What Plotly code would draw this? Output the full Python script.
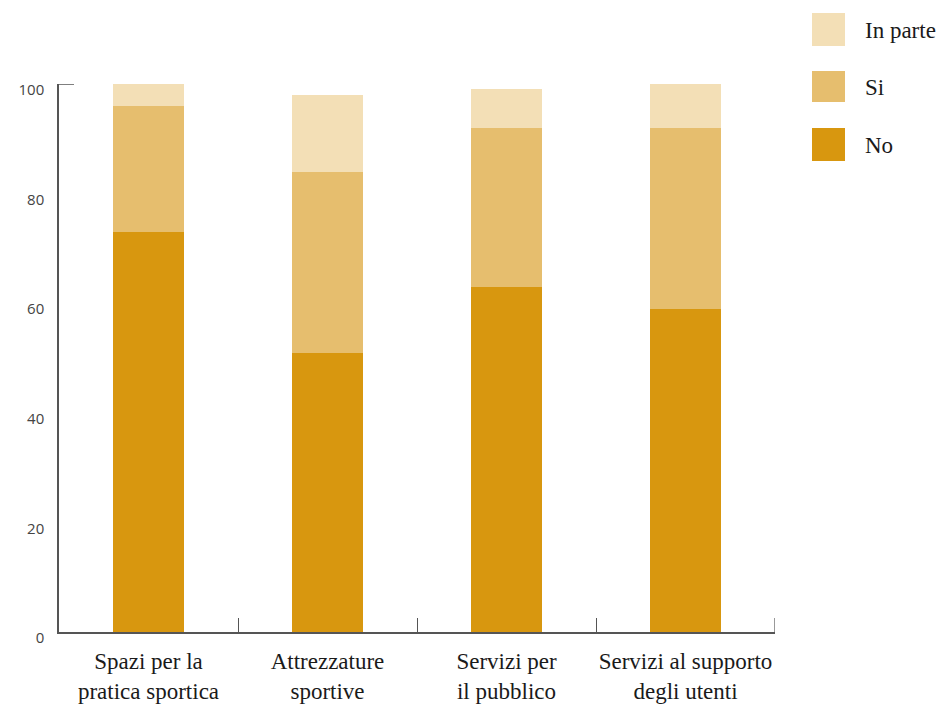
import plotly.graph_objects as go

categories = ["Spazi per la<br>pratica sportica", "Attrezzature<br>sportive",
              "Servizi per<br>il pubblico", "Servizi al supporto<br>degli utenti"]
no_vals = [73, 51, 63, 59]
si_vals = [23, 33, 29, 33]
inparte_vals = [4, 14, 7, 8]
y_ticks = [0, 20, 40, 60, 80, 100]

series = [("No", no_vals, "#D8970F"), ("Si", si_vals, "#E6BE6E"), ("In parte", inparte_vals, "#F3DFB6")]

W, H = 941, 704
ML, MR, MT, MB = 59, 166, 84, 72
PW, PH = W - ML - MR, H - MT - MB

def px_x(x):
    return (x - ML) / PW

def px_y(y):
    return (H - MB - y) / PH

fig = go.Figure()
for name, vals, col in series:
    fig.add_trace(go.Bar(x=categories, y=vals, name=name, marker=dict(color=col, line=dict(width=0)),
                         width=0.4, showlegend=False))

# manual legend
legend_items = [("In parte", "#F3DFB6", 13, 46), ("Si", "#E6BE6E", 71, 102), ("No", "#D8970F", 128, 161)]
for name, col, y0, y1 in legend_items:
    fig.add_shape(type="rect", xref="paper", yref="paper", x0=px_x(812), x1=px_x(845),
                  y0=px_y(y1), y1=px_y(y0), fillcolor=col, line=dict(width=0))
    fig.add_annotation(xref="paper", yref="paper", x=px_x(863), y=px_y((y0 + y1) / 2 + 1),
                       text=name, showarrow=False, xanchor="left", yanchor="middle",
                       font=dict(family="Liberation Serif", size=23, color="#1a1a1a"))

# top cap of y axis and last boundary tick
fig.add_shape(type="line", xref="paper", yref="y", x0=0, x1=px_x(74), y0=100, y1=100,
              line=dict(color="#555555", width=1.5))
fig.add_shape(type="line", xref="x", yref="paper", x0=3.5, x1=3.5, y0=0, y1=14 / PH,
              line=dict(color="#555555", width=1.2))

fig.update_layout(
    width=W, height=H, barmode="stack",
    margin=dict(l=ML, r=MR, t=MT, b=MB, autoexpand=False),
    plot_bgcolor="white", paper_bgcolor="white",
    xaxis=dict(range=[-0.5, 3.5], showline=True, linecolor="#555555", linewidth=1.5,
               ticks="inside", tickson="boundaries", ticklen=14, tickcolor="#555555", tickwidth=1.2,
               ticklabelstandoff=8, automargin=False, tickangle=0,
               showgrid=False, tickfont=dict(family="Liberation Serif", size=23, color="#1a1a1a")),
    yaxis=dict(range=[0, 100], tickvals=y_ticks, showline=True, linecolor="#555555", linewidth=1.5,
               ticks="", showgrid=False, zeroline=False, ticklabelshift=6, ticklabelstandoff=10,
               automargin=False,
               tickfont=dict(family="Open Sans", size=15, color="#444444")),
)

fig.write_html("out.html")
